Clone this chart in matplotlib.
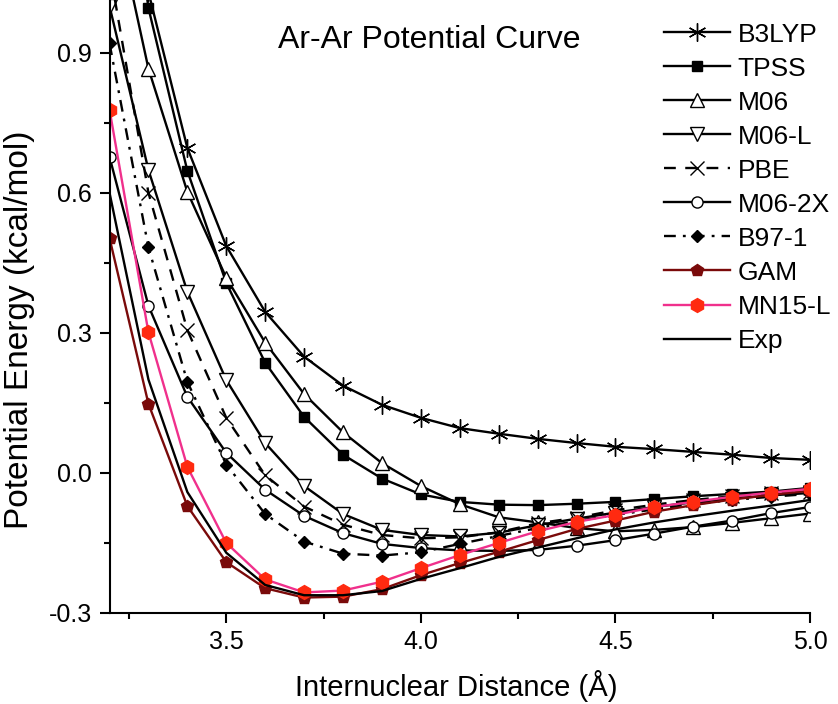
import matplotlib
matplotlib.use("Agg")
import matplotlib.pyplot as plt

plt.rcParams['font.family'] = ['Liberation Sans', 'DejaVu Sans']

r = [3.2, 3.3, 3.4, 3.5, 3.6, 3.7, 3.8, 3.9, 4.0, 4.1, 4.2, 4.3, 4.4, 4.5, 4.6, 4.7, 4.8, 4.9, 5.0]

b3lyp = [1.60, 1.03, 0.696, 0.486, 0.345, 0.249, 0.187, 0.146, 0.118, 0.096, 0.084, 0.073, 0.064, 0.056, 0.051, 0.045, 0.039, 0.032, 0.028]
tpss = [1.60, 0.996, 0.647, 0.407, 0.236, 0.120, 0.039, -0.012, -0.046, -0.062, -0.068, -0.069, -0.066, -0.062, -0.056, -0.050, -0.045, -0.040, -0.032]
m06 = [1.25, 0.866, 0.602, 0.418, 0.279, 0.169, 0.087, 0.021, -0.028, -0.067, -0.095, -0.106, -0.118, -0.125, -0.122, -0.116, -0.107, -0.097, -0.087]
m06l = [1.00, 0.649, 0.388, 0.199, 0.064, -0.028, -0.088, -0.122, -0.133, -0.136, -0.128, -0.112, -0.098, -0.085, -0.073, -0.063, -0.055, -0.048, -0.043]
pbe = [1.08, 0.600, 0.306, 0.118, -0.005, -0.072, -0.111, -0.133, -0.140, -0.138, -0.127, -0.108, -0.096, -0.080, -0.068, -0.058, -0.050, -0.044, -0.040]
m062x = [0.677, 0.358, 0.163, 0.043, -0.036, -0.092, -0.129, -0.152, -0.161, -0.166, -0.167, -0.165, -0.156, -0.144, -0.130, -0.115, -0.102, -0.086, -0.073]
b971 = [0.920, 0.483, 0.195, 0.018, -0.088, -0.147, -0.173, -0.177, -0.170, -0.152, -0.135, -0.118, -0.103, -0.090, -0.078, -0.067, -0.058, -0.051, -0.045]
gam = [0.503, 0.148, -0.071, -0.191, -0.247, -0.267, -0.265, -0.249, -0.219, -0.193, -0.169, -0.144, -0.120, -0.102, -0.083, -0.069, -0.057, -0.047, -0.038]
mn15l = [0.778, 0.301, 0.013, -0.150, -0.228, -0.256, -0.252, -0.233, -0.204, -0.176, -0.150, -0.125, -0.105, -0.090, -0.073, -0.062, -0.051, -0.042, -0.034]
exp = [0.600, 0.200, -0.041, -0.171, -0.240, -0.262, -0.262, -0.253, -0.227, -0.204, -0.180, -0.160, -0.140, -0.121, -0.106, -0.093, -0.081, -0.070, -0.058]

x_ticks = [3.5, 4.0, 4.5, 5.0]
y_ticks = [-0.3, 0.0, 0.3, 0.6, 0.9]

fig = plt.figure(figsize=(8.38, 7.04), dpi=100)
ax = fig.add_axes([0.1307, 0.1293, 0.8359, 0.8707])

lw = 1.7
ax.plot(r, b3lyp, color='black', lw=lw, marker=(6, 2, 0), ms=13, mew=1.0, label='B3LYP')
ax.plot(r, tpss, color='black', lw=lw, marker='s', ms=7, mfc='black', label='TPSS')
ax.plot(r, m06, color='black', lw=lw, marker='^', ms=10, mfc='white', mec='black', mew=1.0, label='M06')
ax.plot(r, m06l, color='black', lw=lw, marker='v', ms=10, mfc='white', mec='black', mew=1.0, label='M06-L')
ax.plot(r, pbe, color='black', lw=lw, ls=(0, (5, 4)), marker='x', ms=10, mew=1.0, label='PBE')
ax.plot(r, m062x, color='black', lw=lw, marker='o', ms=8, mfc='white', mec='black', mew=1.0, label='M06-2X')
ax.plot(r, b971, color='black', lw=lw, ls=(0, (5, 3, 1.2, 3)), marker='D', ms=6.5, mfc='black', label='B97-1')
ax.plot(r, gam, color='#7a0a0a', lw=lw, marker='p', ms=9, mfc='#7a0a0a', mec='#7a0a0a', label='GAM')
ax.plot(r, mn15l, color='#f0308c', lw=lw, marker='h', ms=10, mfc='#ff2a10', mec='#ff2a10', label='MN15-L')
ax.plot(r, exp, color='black', lw=lw, label='Exp')

ax.set_xlim(3.2, 5.0)
ax.set_ylim(-0.3, 1.013)
ax.set_xticks(x_ticks)
ax.set_xticklabels(['3.5', '4.0', '4.5', '5.0'])
ax.set_xticks([3.25, 3.75, 4.25, 4.75], minor=True)
ax.set_yticks(y_ticks)
ax.set_yticklabels(['-0.3', '0.0', '0.3', '0.6', '0.9'])
ax.set_yticks([-0.15, 0.15, 0.45, 0.75], minor=True)

for s in ['top', 'right']:
    ax.spines[s].set_visible(False)
for s in ['left', 'bottom']:
    ax.spines[s].set_linewidth(1.5)
ax.tick_params(which='major', direction='out', length=7.5, width=1.5, labelsize=18, pad=5)
ax.tick_params(which='minor', direction='out', length=4.5, width=1.5)

ax.set_xlabel('Internuclear Distance (Å)', fontsize=21)
ax.set_ylabel('Potential Energy (kcal/mol)', fontsize=24)
ax.xaxis.set_label_coords(0.495, -0.093)
ax.yaxis.set_label_coords(-0.106, 0.462)

ax.text(0.457, 0.935, 'Ar-Ar Potential Curve', transform=ax.transAxes, ha='center', va='center', fontsize=23)

fig.legend(loc='upper left', bbox_to_anchor=(0.792, 0.968), frameon=False, fontsize=19,
           handlelength=2.5, handletextpad=0.3, labelspacing=0.38, borderpad=0, borderaxespad=0)

fig.savefig('out.png', dpi=100)
